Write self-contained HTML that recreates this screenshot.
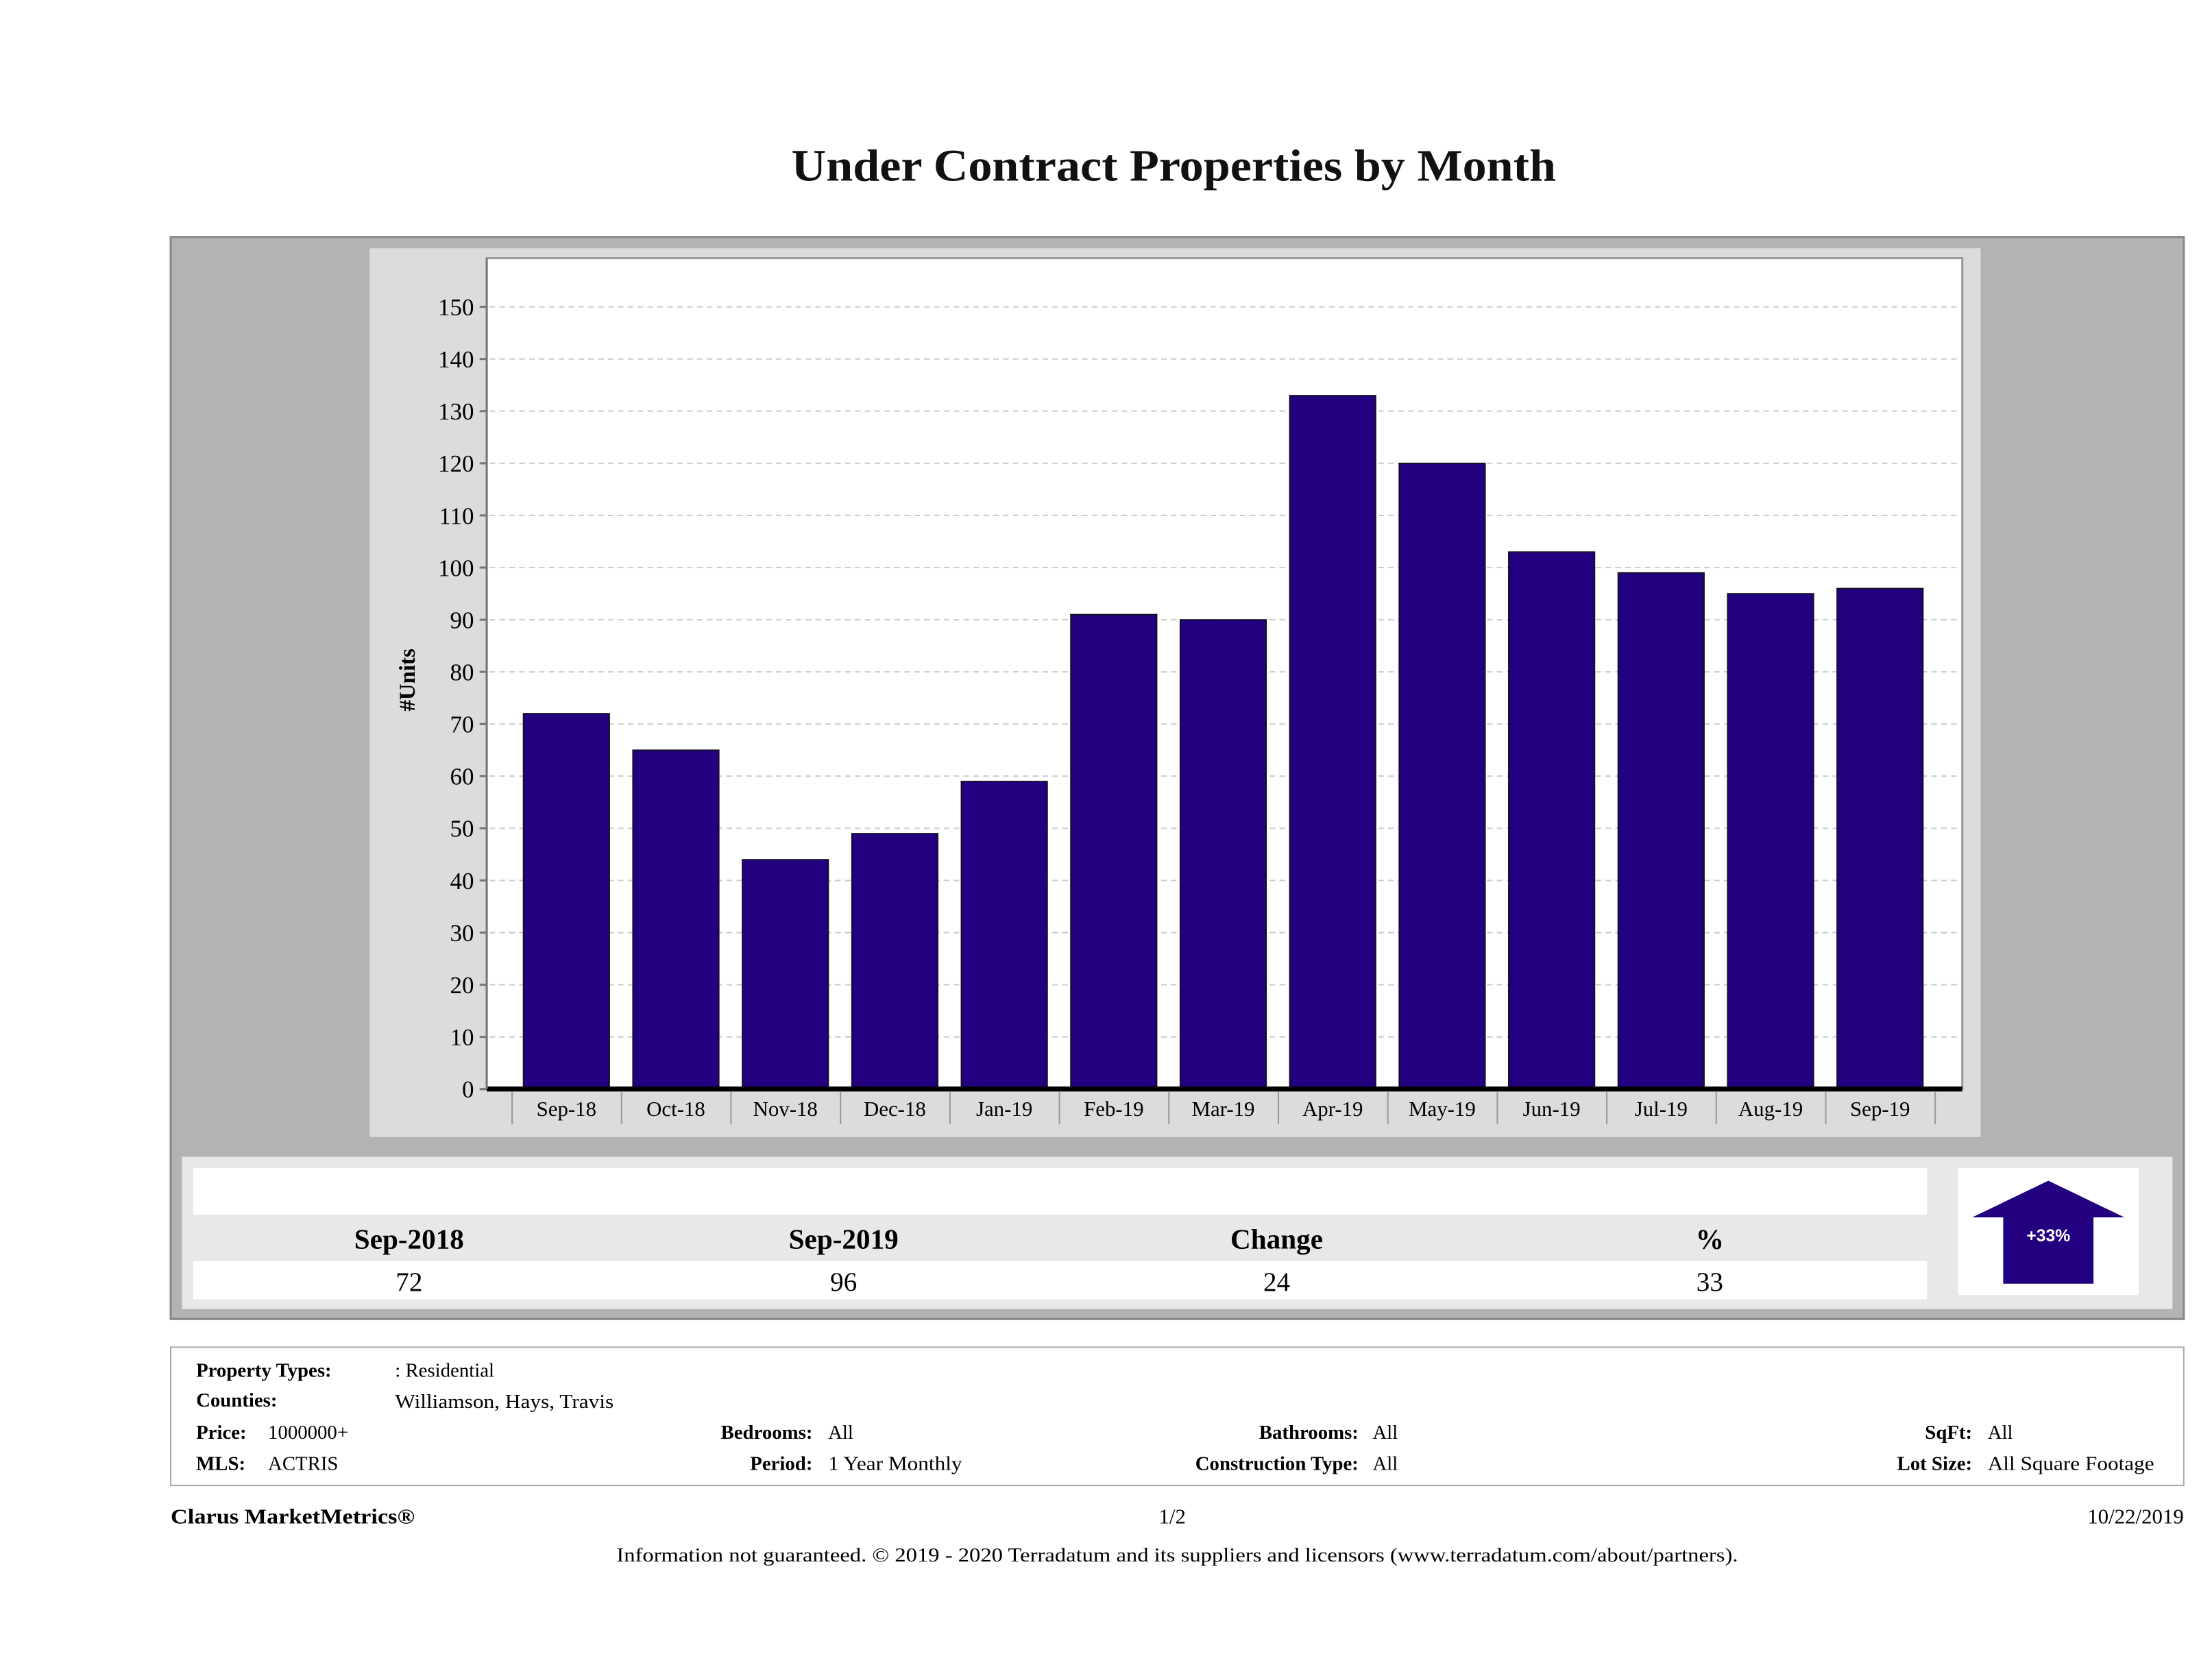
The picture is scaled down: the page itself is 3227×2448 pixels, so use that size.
<!DOCTYPE html>
<html><head><meta charset="utf-8"><style>
html,body{margin:0;padding:0;background:#fff;}
svg{display:block;font-family:"Liberation Serif",serif;}
</style></head><body>
<svg id="chart" width="3227" height="2448" viewBox="0 0 1568 1189.5" xmlns="http://www.w3.org/2000/svg">
<text x="561" y="128" textLength="542" lengthAdjust="spacingAndGlyphs" font-size="32" font-weight="bold" fill="#111">Under Contract Properties by Month</text>
<rect x="121" y="168" width="1427" height="767" fill="#b3b3b3" stroke="#888" stroke-width="1.5"/>
<rect x="262" y="176" width="1142" height="630" fill="#dcdcdc"/>
<rect x="345" y="183" width="1046" height="589" fill="#fff" stroke="#999" stroke-width="1.5"/>
<g id="grid"></g><g id="bars"></g><g id="yticks"></g><g id="xticks"></g>
<line x1="345" y1="772" x2="1391" y2="772" stroke="#000" stroke-width="3.5"/>
<line x1="345" y1="183" x2="345" y2="772" stroke="#777" stroke-width="1.5"/>
<text transform="translate(294,482) rotate(-90)" text-anchor="middle" font-size="16" font-weight="bold">#Units</text>

<rect x="129" y="820" width="1411" height="108" fill="#e8e8e8"/>
<rect x="137" y="828" width="1229" height="33" fill="#fff"/>
<rect x="137" y="894" width="1229" height="27" fill="#fff"/>
<g font-size="20" font-weight="bold" text-anchor="middle">
<text x="290" y="885">Sep-2018</text>
<text x="598" y="885">Sep-2019</text>
<text x="905" y="885">Change</text>
<text x="1212" y="885">%</text>
</g>
<g font-size="19" text-anchor="middle">
<text x="290" y="915">72</text>
<text x="598" y="915">96</text>
<text x="905" y="915">24</text>
<text x="1212" y="915">33</text>
</g>
<rect x="1388" y="828" width="128" height="90" fill="#fff"/>
<polygon points="1398,863 1452,837 1506,863 1484,863 1484,910 1420,910 1420,863" fill="#22007f"/>
<text x="1452" y="880" text-anchor="middle" font-family="Liberation Sans, sans-serif" font-size="12" font-weight="bold" fill="#fff">+33%</text>

<rect x="121" y="955" width="1427" height="98" fill="#fff" stroke="#aaa" stroke-width="1"/>
<g font-size="14">
<text x="139" y="976" font-weight="bold">Property Types:</text>
<text x="280" y="976">: Residential</text>
<text x="139" y="997" font-weight="bold">Counties:</text>
<text x="280" y="998" textLength="155" lengthAdjust="spacingAndGlyphs">Williamson, Hays, Travis</text>
<text x="139" y="1020" font-weight="bold">Price:</text>
<text x="190" y="1020">1000000+</text>
<text x="576" y="1020" font-weight="bold" text-anchor="end">Bedrooms:</text>
<text x="587" y="1020">All</text>
<text x="963" y="1020" font-weight="bold" text-anchor="end">Bathrooms:</text>
<text x="973" y="1020">All</text>
<text x="1398" y="1020" font-weight="bold" text-anchor="end">SqFt:</text>
<text x="1409" y="1020">All</text>
<text x="139" y="1042" font-weight="bold">MLS:</text>
<text x="190" y="1042">ACTRIS</text>
<text x="576" y="1042" font-weight="bold" text-anchor="end">Period:</text>
<text x="587" y="1042" textLength="95" lengthAdjust="spacingAndGlyphs">1 Year Monthly</text>
<text x="963" y="1042" font-weight="bold" text-anchor="end">Construction Type:</text>
<text x="973" y="1042">All</text>
<text x="1398" y="1042" font-weight="bold" text-anchor="end">Lot Size:</text>
<text x="1409" y="1042" textLength="118" lengthAdjust="spacingAndGlyphs">All Square Footage</text>
</g>
<text x="121" y="1080" textLength="173" lengthAdjust="spacingAndGlyphs" font-size="15" font-weight="bold">Clarus MarketMetrics®</text>
<text x="831" y="1080" font-size="15" text-anchor="middle">1/2</text>
<text x="1548" y="1080" font-size="15" text-anchor="end">10/22/2019</text>
<text x="437" y="1107" textLength="795" lengthAdjust="spacingAndGlyphs" font-size="14">Information not guaranteed. © 2019 - 2020 Terradatum and its suppliers and licensors (www.terradatum.com/about/partners).</text>
</svg>
<script>
const categories = ["Sep-18","Oct-18","Nov-18","Dec-18","Jan-19","Feb-19","Mar-19","Apr-19","May-19","Jun-19","Jul-19","Aug-19","Sep-19"];
const unitValues = [72,65,44,49,59,91,90,133,120,103,99,95,96];
const yTickValues = [0,10,20,30,40,50,60,70,80,90,100,110,120,130,140,150];
const NS = "http://www.w3.org/2000/svg";
const y0 = 772, y150 = 217.5;
function yScale(v){ return y0 - (y0 - y150) * v / 150; }
const bandStart = 363, bandStep = 77.6, barOff = 8, barW = 61;
function xBand(i){ return bandStart + i * bandStep; }
function mk(tag, attrs, parent){ const e = document.createElementNS(NS, tag); for (const k in attrs) e.setAttribute(k, attrs[k]); parent.appendChild(e); return e; }
const grid = document.getElementById('grid'), bars = document.getElementById('bars'), yt = document.getElementById('yticks'), xt = document.getElementById('xticks');
yTickValues.forEach(v => {
  const y = yScale(v);
  if (v > 0) {
    const g = mk('line', {x1:347, x2:1389, y1:y, y2:y, stroke:'#ccc', 'stroke-width':1, 'stroke-dasharray':'4,3'}, grid);
    
    
  }
  const tk = mk('line', {x1:340, x2:345, y1:y, y2:y, stroke:'#777', 'stroke-width':1.5}, yt);
  
  
  const t = mk('text', {x:336, y:y+6, 'text-anchor':'end', 'font-size':17}, yt);
  t.textContent = v;
  
  
});
categories.forEach((c, i) => {
  const v = unitValues[i];
  const b = mk('rect', {x:xBand(i)+barOff, y:yScale(v), width:barW, height:y0-yScale(v), fill:'#22007f', stroke:'#111', 'stroke-width':0.8}, bars);
  
  
  const s = mk('line', {x1:xBand(i), x2:xBand(i), y1:774, y2:797, stroke:'#999', 'stroke-width':1}, xt);
  
  
  const t = mk('text', {x:xBand(i)+barOff+barW/2, y:791, 'text-anchor':'middle', 'font-size':15}, xt);
  t.textContent = c;
  
  
});
const last = mk('line', {x1:xBand(categories.length), x2:xBand(categories.length), y1:774, y2:797, stroke:'#999', 'stroke-width':1}, xt);


</script>
</body></html>
